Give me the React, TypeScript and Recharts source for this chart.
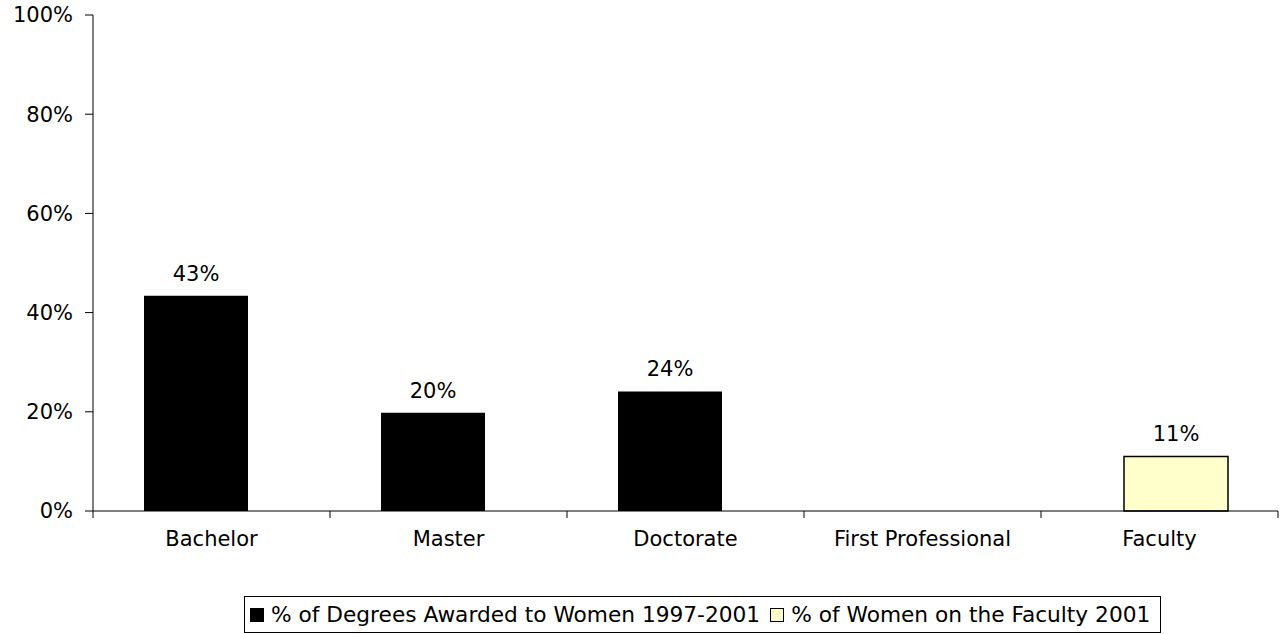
import { Bar, BarChart, LabelList, XAxis, YAxis } from "recharts";

const categories = ["Bachelor", "Master", "Doctorate", "First Professional", "Faculty"];
const degreesValues = [43.4, 19.8, 24.1, null, null];
const facultyValues = [null, null, null, null, 11.0];
const yTicks = [0, 20, 40, 60, 80, 100];
const seriesNames = ["% of Degrees Awarded to Women 1997-2001", "% of Women on the Faculty 2001"];

const FONT = "'DejaVu Sans', Verdana, sans-serif";
const FACULTY_FILL = "#FFFFCC";
const X_TICK_MARGIN = 20;

const data = categories.map((name, i) => ({
  name,
  degrees: degreesValues[i],
  faculty: facultyValues[i],
}));

function pct(v: unknown) {
  if (v == null) return "";
  return `${Math.round(Number(v))}%`;
}

// category label plus Excel-style tick marks on the category boundaries
function CategoryTick(props: any) {
  const { x, y, payload, index } = props;
  const half = payload?.offset ?? 0;
  const axisY = y - X_TICK_MARGIN;
  const isLast = index === categories.length - 1;
  return (
    <g>
      <line x1={x - half} x2={x - half} y1={axisY} y2={axisY + 7} stroke="#000" />
      {isLast && <line x1={x + half} x2={x + half} y1={axisY} y2={axisY + 7} stroke="#000" />}
      <text x={x} y={y} dy="0.71em" textAnchor="middle" fill="#000" fontSize={21} fontFamily={FONT}>
        {payload.value}
      </text>
    </g>
  );
}

function ChartLegend() {
  return (
    <div
      style={{
        position: "absolute",
        left: 244,
        top: 596,
        width: 917,
        height: 37,
        border: "1px solid #000",
        background: "#fff",
        display: "flex",
        alignItems: "center",
        gap: 7,
        paddingLeft: 5,
        boxSizing: "border-box",
        fontFamily: FONT,
        fontSize: 21.7,
        color: "#000",
        whiteSpace: "nowrap",
      }}
    >
      <span style={{ width: 12, height: 12, background: "#000", border: "1px solid #000" }} />
      <span>{seriesNames[0]}</span>
      <span style={{ width: 12, height: 12, background: FACULTY_FILL, border: "1px solid #000", marginLeft: 3 }} />
      <span>{seriesNames[1]}</span>
    </div>
  );
}

export default function App() {
  return (
    <div style={{ position: "absolute", left: 0, top: 0, width: 1283, height: 634, background: "#fff" }}>
      <BarChart
        width={1283}
        height={634}
        data={data}
        margin={{ top: 15, right: 5, left: 0, bottom: 0 }}
        barSize={104}
        barGap={-72}
      >
        <XAxis
          dataKey="name"
          height={123}
          axisLine={{ stroke: "#000" }}
          tickLine={false}
          tickSize={0}
          tickMargin={X_TICK_MARGIN}
          interval={0}
          tick={<CategoryTick />}
        />
        <YAxis
          width={93}
          domain={[0, 100]}
          ticks={yTicks}
          tickFormatter={(v) => `${v}%`}
          axisLine={{ stroke: "#000" }}
          tickLine={{ stroke: "#000" }}
          tickSize={8}
          tickMargin={12}
          tick={{ fill: "#000", fontSize: 21, fontFamily: FONT }}
        />
        <Bar dataKey="degrees" fill="#000" isAnimationActive={false}>
          <LabelList
            dataKey="degrees"
            position="top"
            offset={15}
            formatter={pct}
            style={{ fill: "#000", fontSize: 21, fontFamily: FONT }}
          />
        </Bar>
        <Bar dataKey="faculty" fill={FACULTY_FILL} stroke="#000" strokeWidth={1.5} isAnimationActive={false}>
          <LabelList
            dataKey="faculty"
            position="top"
            offset={15}
            formatter={pct}
            style={{ fill: "#000", fontSize: 21, fontFamily: FONT }}
          />
        </Bar>
      </BarChart>
      <ChartLegend />
    </div>
  );
}
